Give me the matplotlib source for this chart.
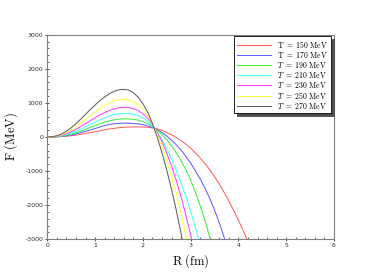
import matplotlib
matplotlib.use("Agg")
import matplotlib.pyplot as plt
from matplotlib.ticker import MultipleLocator

plt.rcParams['mathtext.fontset'] = 'cm'

# radius grid (fm), step 0.1; each curve stops once it is below the frame
R = [round(0.1 * i, 1) for i in range(45)]

# free energy F (MeV)
F_150 = [0, 1, 5, 12, 24, 39, 57, 79, 103, 128,
         155, 183, 210, 235, 255, 272, 284, 292, 296, 296,
         292, 284, 268, 240, 195, 135, 65, -15, -105, -210,
         -330, -465, -615, -780, -960, -1160, -1380, -1620, -1880, -2150,
         -2440, -2745, -3065, -3400]
F_170 = [0, 2, 8, 20, 38, 62, 92, 127, 166, 207,
         249, 292, 335, 368, 390, 402, 406, 404, 397, 383,
         360, 326, 276, 212, 130, 30, -90, -230, -390, -570,
         -770, -990, -1230, -1500, -1800, -2140, -2520, -2940, -3400]
F_190 = [0, 3, 11, 28, 53, 86, 127, 174, 226, 281,
         335, 388, 435, 475, 505, 523, 531, 530, 518, 493,
         452, 392, 310, 205, 75, -80, -260, -465, -695, -960,
         -1270, -1620, -2010, -2450, -2940, -3480]
F_210 = [0, 4, 15, 38, 72, 117, 170, 232, 300, 370,
         440, 507, 567, 618, 657, 682, 692, 688, 668, 630,
         560, 460, 320, 140, -80, -340, -640, -980, -1360, -1740,
         -2180, -2650, -3150]
F_230 = [0, 5, 20, 50, 95, 155, 225, 305, 390, 478,
         565, 645, 718, 780, 828, 858, 870, 862, 832, 778,
         680, 550, 370, 140, -140, -470, -850, -1280, -1760, -2290,
         -2870, -3500]
F_250 = [0, 6, 27, 68, 128, 205, 298, 405, 515, 628,
         738, 840, 930, 1005, 1060, 1092, 1100, 1082, 1030, 945,
         815, 630, 385, 80, -280, -690, -1150, -1660, -2240, -2880,
         -3580]
F_270 = [0, 8, 35, 90, 170, 270, 390, 525, 665, 805,
         940, 1065, 1175, 1270, 1340, 1385, 1398, 1375, 1300, 1170,
         980, 730, 400, 0, -460, -970, -1530, -2150, -2830, -3560]

series = [F_150, F_170, F_190, F_210, F_230, F_250, F_270]
labels = [r'$\mathrm{T\ =\ 150\ MeV}$', r'$\mathrm{T\ =\ 170\ MeV}$',
          r'$T\ =\ \mathrm{190\ MeV}$', r'$T\ =\ \mathrm{210\ MeV}$',
          r'$T\ =\ \mathrm{230\ MeV}$', r'$T\ =\ \mathrm{250\ MeV}$',
          r'$T\ =\ \mathrm{270\ MeV}$']
colors = ['#ff6060', '#6060ff', '#40ee40', '#40ffff', '#ff40ff', '#ffff40', '#606060']

fig = plt.figure(figsize=(3.82, 2.74), dpi=100)
ax = fig.add_axes([0.1238, 0.1266, 0.7505, 0.7468])

for F, lab, c in zip(series, labels, colors):
    ax.plot(R[:len(F)], F, color=c, lw=0.75, label=lab)

ax.set_xlim(0, 6)
ax.set_ylim(-3000, 3000)
ax.xaxis.set_major_locator(MultipleLocator(1))
ax.xaxis.set_minor_locator(MultipleLocator(0.2))
ax.yaxis.set_major_locator(MultipleLocator(1000))
ax.yaxis.set_minor_locator(MultipleLocator(200))
ax.tick_params(which='major', direction='inout', length=3, width=0.6, labelsize=4.5,
               colors='#303030', pad=1.5)
ax.tick_params(which='minor', direction='in', length=1.5, width=0.5, colors='#303030')
ax.tick_params(top=False, right=False, which='both')
ax.set_yticks([-3000, -2000, -1000, 0, 1000, 2000, 3000])
ax.set_yticklabels(['-3000', '-2000', '-1000', '0', '1000', '2000', '3000'])
for s in ax.spines.values():
    s.set_color('#808080')
    s.set_linewidth(0.8)

ax.set_xlabel(r'$\mathrm{R\ (fm)}$', fontsize=9, labelpad=3)
ax.set_ylabel(r'$\mathrm{F\ (MeV)}$', fontsize=9, labelpad=4)

leg = ax.legend(loc='upper right', bbox_to_anchor=(0.9895, 0.9936), fontsize=5.6,
                frameon=True, fancybox=False, shadow={'color': '0.3', 'alpha': 1},
                handlelength=4.4, handletextpad=0.8, labelspacing=0.0,
                borderpad=0.35, borderaxespad=0)
leg.get_frame().set_edgecolor('black')
leg.get_frame().set_linewidth(0.6)

fig.savefig('out.png', dpi=100)
